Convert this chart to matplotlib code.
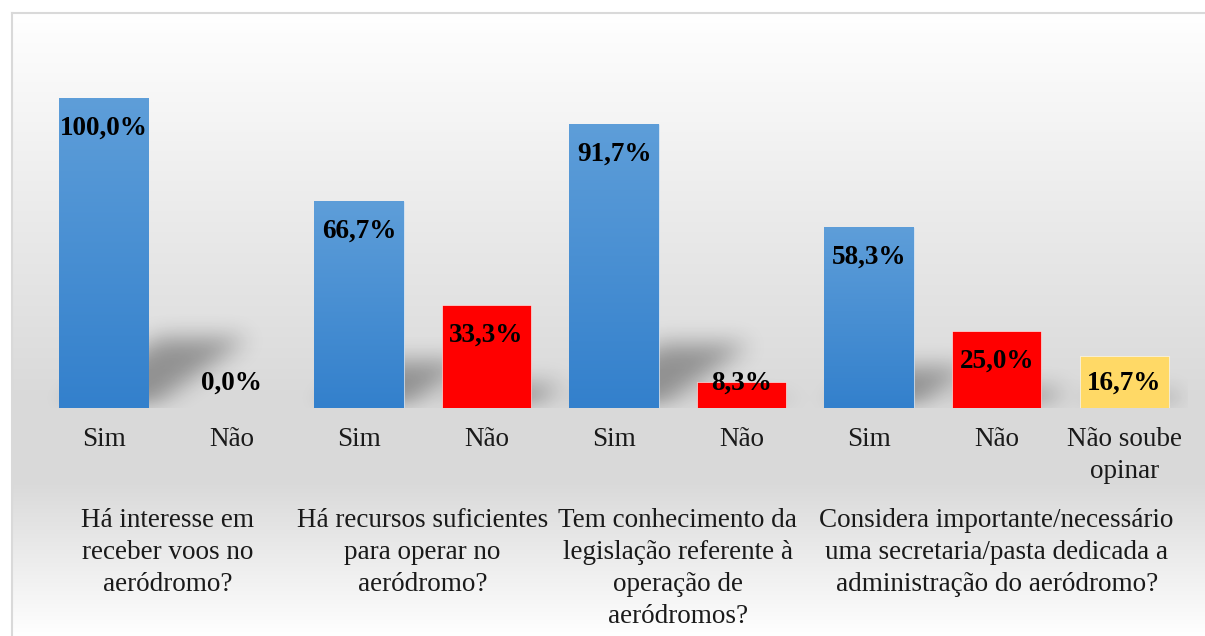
import numpy as np
import matplotlib
matplotlib.use("Agg")
import matplotlib.pyplot as plt
import matplotlib.transforms as mtransforms
from matplotlib.colors import LinearSegmentedColormap
from matplotlib.lines import Line2D

# data
answers = ["Sim", "Não", "Sim", "Não", "Sim", "Não", "Sim", "Não", "Não soube\nopinar"]
values = [100.0, 0.0, 66.7, 33.3, 91.7, 8.3, 58.3, 25.0, 16.7]
questions = [
    "Há interesse em\nreceber voos no\naeródromo?",
    "Há recursos suficientes\npara operar no\naeródromo?",
    "Tem conhecimento da\nlegislação referente à\noperação de\naeródromos?",
    "Considera importante/necessário\numa secretaria/pasta dedicada a\nadministração do aeródromo?",
]
group_sizes = [2, 2, 2, 3]

W, H = 1205, 636
plt.rcParams['font.family'] = ['Liberation Serif', 'DejaVu Serif']

fig = plt.figure(figsize=(W / 100, H / 100), dpi=100)

# background: grey band behind the axis, white at top and bottom
rows = np.arange(H)
stops_y = [13, 200, 400, 480, 636]
stops_c = [255, 236, 217, 217, 255]
col = np.interp(rows, stops_y, stops_c) / 255.0
bg_img = np.repeat(col[:, None], W, axis=1)
bg_img[:13, :] = 1.0
bg_img[:, :11] = 1.0
bg = fig.add_axes([0, 0, 1, 1], zorder=-10)
bg.imshow(np.dstack([bg_img] * 3), extent=(0, 1, 0, 1), aspect='auto',
          interpolation='nearest')
bg.axis('off')

# frame (cut by the image edge on the right and bottom)
fig.add_artist(Line2D([11.5 / W, 11.5 / W], [0, 1 - 12.5 / H],
                      transform=fig.transFigure, color='#d9d9d9', lw=1.5))
fig.add_artist(Line2D([11.5 / W, 1], [1 - 12.5 / H, 1 - 12.5 / H],
                      transform=fig.transFigure, color='#d9d9d9', lw=1.5))

# plot area
left_px, right_px, base_px, top_px = 40, 1188, 408, 67
ax = fig.add_axes([left_px / W, (H - base_px) / H,
                   (right_px - left_px) / W, (base_px - top_px) / H])
ymax = 110
ax.set_xlim(-0.5, len(values) - 0.5)
ax.set_ylim(0, ymax)
ax.axis('off')
ax.patch.set_alpha(0)

x = np.arange(len(values))
width = 0.7
colors = []
for a in answers:
    if a == "Sim":
        colors.append('#4a8fd3')
    elif a == "Não":
        colors.append('#ff0000')
    else:
        colors.append('#ffd966')

# perspective shadows behind the bars
nx = right_px - left_px
ny = base_px - top_px
px_per_unit = nx / len(values)
px_per_val = ny / ymax
gx = -0.5 + (np.arange(nx) + 0.5) / px_per_unit
gy = np.arange(ny) + 0.5
GX, GY = np.meshgrid(gx, gy)
shadow = np.zeros((ny, nx))
for xi, v in zip(x, values):
    sh = 0.226 * v * px_per_val
    shift = GY * 1.43 / px_per_unit
    m = (GY <= sh) & (GX >= xi - width / 2 + shift) & (GX <= xi + width / 2 + shift)
    shadow = np.maximum(shadow, m.astype(float))


def box_blur(a, k, axis):
    kern = np.ones(k) / k
    return np.apply_along_axis(lambda r: np.convolve(r, kern, mode='same'), axis, a)


for _ in range(4):
    shadow = box_blur(shadow, 19, 0)
    shadow = box_blur(shadow, 19, 1)
sh_rgba = np.zeros((ny, nx, 4))
sh_rgba[..., 3] = 0.34 * shadow
ax.imshow(sh_rgba, extent=(-0.5, len(values) - 0.5, 0, ymax), origin='lower',
          aspect='auto', zorder=1, interpolation='bilinear')

# bars
bars = ax.bar(x, values, width=width, color=colors, zorder=2,
              edgecolor='white', linewidth=0.4)
blue_cmap = LinearSegmentedColormap.from_list('b', ['#3380cc', '#5e9ed9'])
grad = np.linspace(0, 1, 256)[:, None]
for b, a, v in zip(bars, answers, values):
    if a == "Sim" and v > 0:
        im = ax.imshow(grad, cmap=blue_cmap, origin='lower', aspect='auto',
                       extent=(b.get_x(), b.get_x() + b.get_width(), 0, v),
                       zorder=2.5)
        im.set_clip_path(b)

# value labels (inside end, pushed up when the bar is too short)
for xi, v in zip(x, values):
    ly = max(v - 9.8, 8.0)
    ax.text(xi, ly, f"{v:.1f}%".replace('.', ','), ha='center', va='center',
            fontsize=19.5, fontweight='bold', color='black', zorder=5)

# category axis
trans = mtransforms.blended_transform_factory(ax.transData, fig.transFigure)
for xi, a in zip(x, answers):
    ax.text(xi, 1 - 427 / H, a, transform=trans, ha='center', va='top',
            fontsize=19.5, color='#1a1a1a', linespacing=1.36)

start = 0
for q, n in zip(questions, group_sizes):
    cx = start + (n - 1) / 2
    ax.text(cx, 1 - 508 / H, q, transform=trans, ha='center', va='top',
            fontsize=19.5, color='#1a1a1a', linespacing=1.36)
    start += n

fig.savefig('out.png', dpi=100)
